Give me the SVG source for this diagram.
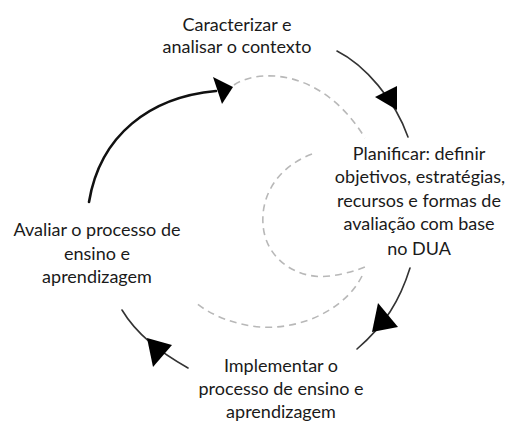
<svg xmlns="http://www.w3.org/2000/svg" width="505" height="423" viewBox="0 0 505 423">
<style>
.lbl{font-family:"Lato","Liberation Sans",sans-serif;font-size:18px;fill:#1a1a1a}
.arc{fill:none;stroke:#333;stroke-width:1.6;stroke-linecap:round}
.arc.bold{stroke:#111;stroke-width:2.6}
.dash{fill:none;stroke:#b8b8b8;stroke-width:1.6;stroke-dasharray:7 5}
.head{fill:#000}
</style>
<rect width="505" height="423" fill="#fff"/>
<g id="connectors">
<path class="arc bold" d="M89,202 C100,135 150,97 216,91"/>
<polygon class="head" points="213,77 233,87 222,104"/>
<path class="dash" d="M234,85 C255,70 320,65 365,138"/>
<path class="dash" d="M312,154 C275,168 258,200 264,232 C270,262 300,280 330,276 C345,274 358,270 367,266"/>
<path class="dash" d="M362,276 C345,310 300,330 260,327 C235,325 210,315 195,302"/>
<path class="arc" d="M337,51 C365,65 395,100 408,137"/>
<polygon class="head" points="375,97 397,86 397,110"/>
<path class="arc" d="M410,268 C400,300 385,325 357,349"/>
<polygon class="head" points="378,303 398,327 372,332"/>
<path class="arc" d="M188,368 C160,352 137,335 122,310"/>
<polygon class="head" points="147,338 172,345 153,367"/>
</g>
<g id="node-caracterizar" class="lbl" text-anchor="middle">
<text x="237" y="31" text-anchor="middle">Caracterizar e</text>
<text x="237" y="53" text-anchor="middle">analisar o contexto</text>
</g>
<g id="node-planificar" class="lbl" text-anchor="middle">
<text x="419" y="160" text-anchor="middle">Planificar: definir</text>
<text x="420" y="183" text-anchor="middle">objetivos, estratégias,</text>
<text x="419" y="207" text-anchor="middle">recursos e formas de</text>
<text x="419" y="230" text-anchor="middle">avaliação com base</text>
<text x="419" y="255" text-anchor="middle">no DUA</text>
</g>
<g id="node-implementar" class="lbl" text-anchor="middle">
<text x="281" y="372" text-anchor="middle">Implementar o</text>
<text x="281" y="395" text-anchor="middle">processo de ensino e</text>
<text x="281" y="418" text-anchor="middle">aprendizagem</text>
</g>
<g id="node-avaliar" class="lbl" text-anchor="middle">
<text x="97" y="236" text-anchor="middle">Avaliar o processo de</text>
<text x="97" y="260" text-anchor="middle">ensino e</text>
<text x="97" y="283" text-anchor="middle">aprendizagem</text>
</g>
</svg>
